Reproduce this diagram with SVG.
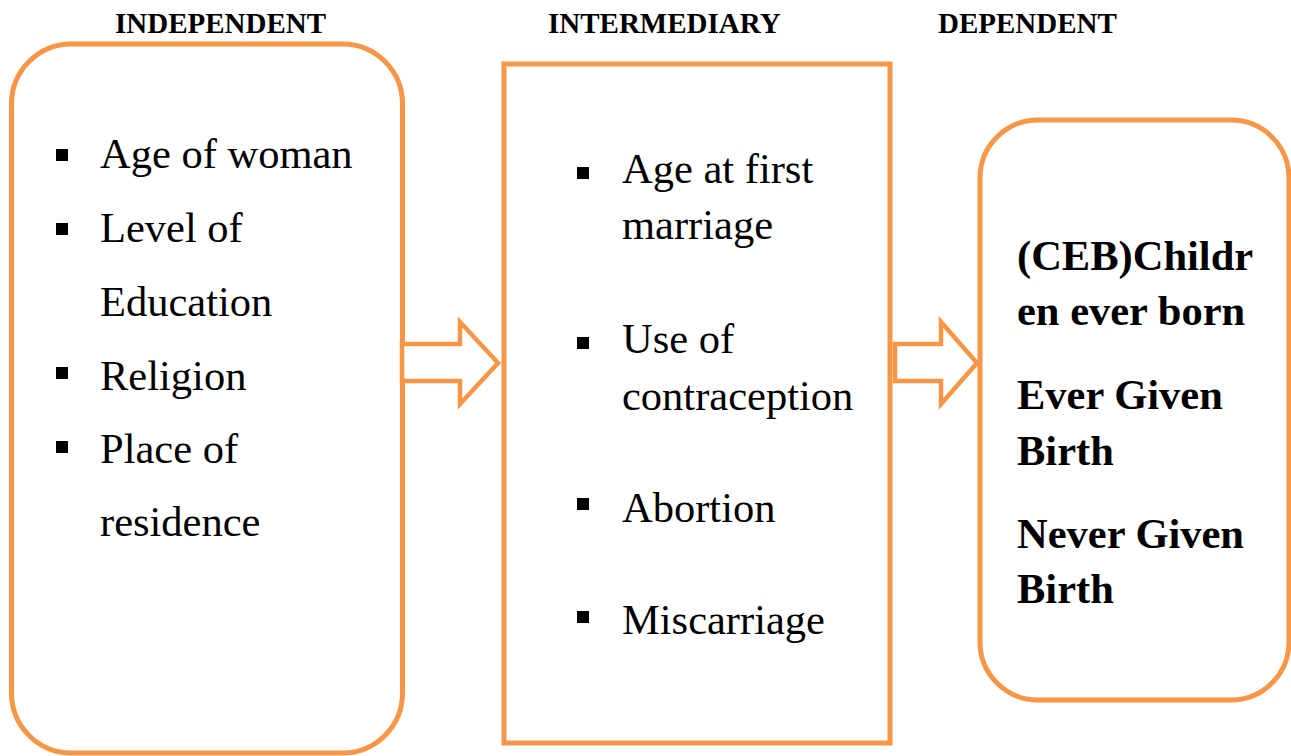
<svg xmlns="http://www.w3.org/2000/svg" width="1291" height="756" viewBox="0 0 1291 756">
<style>
.box{fill:#fff;stroke:#F79646;stroke-width:5}
.arr{fill:#fff;stroke:#F79646;stroke-width:4.5;stroke-linejoin:miter}
.hd{font-weight:bold;font-size:29px}
.tx{font-size:42.5px}
.bt{font-weight:bold;font-size:42.5px}
.bl{fill:#000}
</style>
<rect width="1291" height="756" fill="#fff"/>
<g id="headers" font-family="Liberation Serif" fill="#000">
<text class="hd" x="115" y="33">INDEPENDENT</text>
<text class="hd" x="548" y="33">INTERMEDIARY</text>
<text class="hd" x="938" y="33">DEPENDENT</text>
</g>
<g id="independent" font-family="Liberation Serif" fill="#000">
<rect class="box" x="11.5" y="44" width="391" height="709" rx="60" ry="60"/>
<rect class="bl" x="56" y="149" width="12" height="12"/>
<rect class="bl" x="56" y="223" width="12" height="12"/>
<rect class="bl" x="56" y="367" width="12" height="12"/>
<rect class="bl" x="56" y="441" width="12" height="12"/>
<text class="tx" x="100" y="168">Age of woman</text>
<text class="tx" x="100" y="242">Level of</text>
<text class="tx" x="100" y="316">Education</text>
<text class="tx" x="100" y="390">Religion</text>
<text class="tx" x="100" y="463">Place of</text>
<text class="tx" x="100" y="536">residence</text>
</g>
<g id="intermediary" font-family="Liberation Serif" fill="#000">
<rect class="box" x="504" y="64" width="386" height="679"/>
<rect class="bl" x="577" y="167" width="12" height="12"/>
<rect class="bl" x="577" y="337" width="12" height="12"/>
<rect class="bl" x="577" y="498" width="12" height="12"/>
<rect class="bl" x="577" y="611" width="12" height="12"/>
<text class="tx" x="622" y="183">Age at first</text>
<text class="tx" x="622" y="239">marriage</text>
<text class="tx" x="622" y="353">Use of</text>
<text class="tx" x="622" y="410">contraception</text>
<text class="tx" x="622" y="522">Abortion</text>
<text class="tx" x="622" y="634">Miscarriage</text>
</g>
<g id="dependent" font-family="Liberation Serif" fill="#000">
<rect class="box" x="980" y="120" width="309" height="580" rx="58" ry="58"/>
<text class="bt" x="1017" y="270">(CEB)Childr</text>
<text class="bt" x="1017" y="325">en ever born</text>
<text class="bt" x="1017" y="409">Ever Given</text>
<text class="bt" x="1017" y="465">Birth</text>
<text class="bt" x="1017" y="548">Never Given</text>
<text class="bt" x="1017" y="603">Birth</text>
</g>
<g id="connectors">
<polygon class="arr" points="402,344 460,344 460,322 498,363 460,404 460,381 402,381"/>
<polygon class="arr" points="895,344 941,344 941,322 977,363 941,404 941,381 895,381"/>
</g>
</svg>
